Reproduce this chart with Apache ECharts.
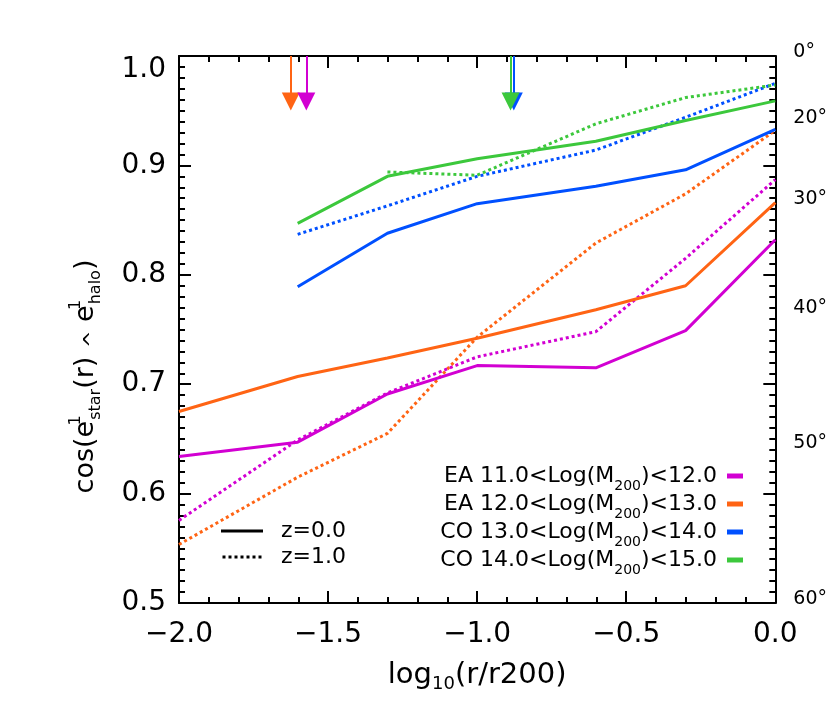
<!DOCTYPE html>
<html>
<head>
<meta charset="utf-8">
<script src="https://cdn.jsdelivr.net/npm/echarts@6.0.0/dist/echarts.min.js"></script>
<style>
  html, body { margin: 0; padding: 0; background: #fff; }
  #chart { width: 830px; height: 718px; }
</style>
</head>
<body>
<div id="chart"></div>
<script>
// log10(r/r200) sample radii
const logR = [-2.0, -1.602, -1.301, -1.0, -0.602, -0.301, 0.0];

// z = 0.0 (solid)
const ea11_z0 = [0.634, 0.647, 0.691, 0.717, 0.715, 0.749, 0.832];
const ea12_z0 = [0.675, 0.707, 0.724, 0.742, 0.768, 0.790, 0.866];
const co13_z0 = [null, 0.789, 0.838, 0.865, 0.881, 0.896, 0.933];
const co14_z0 = [null, 0.847, 0.890, 0.906, 0.922, 0.941, 0.959];

// z = 1.0 (dotted)
const ea11_z1 = [0.5755, 0.649, 0.692, 0.725, 0.748, 0.815, 0.887];
const ea12_z1 = [0.5535, 0.615, 0.655, 0.743, 0.829, 0.874, 0.932];
const co13_z1 = [null, 0.837, 0.863, 0.890, 0.914, 0.944, 0.975];
const co14_z1 = [null, null, 0.894, 0.891, 0.938, 0.962, 0.9735];

// arrows at the top of the frame
const arrowX = [-1.573, -1.625, -0.877, -0.888]; // EA11, EA12, CO13, CO14
const arrowTop = 1.0;
const arrowEnd = 0.9584;

const binNames = [
  'EA 11.0<Log(M200)<12.0',
  'EA 12.0<Log(M200)<13.0',
  'CO 13.0<Log(M200)<14.0',
  'CO 14.0<Log(M200)<15.0',
];
const binColors = ['#d200d2', '#ff6414', '#0050ff', '#3cc83c'];
const zNames = ['z=0.0', 'z=1.0'];

const yTicks = [0.5, 0.6, 0.7, 0.8, 0.9, 1.0];
const angleTicks = [0, 20, 30, 40, 50, 60];

const solid = [ea11_z0, ea12_z0, co13_z0, co14_z0];
const dotted = [ea11_z1, ea12_z1, co13_z1, co14_z1];

const toPairs = (ys) =>
  logR.map((x, i) => [x, ys[i]]).filter((p) => p[1] != null);

const series = [];
// draw order: orange under magenta, blue under green
const drawOrder = [1, 0, 2, 3];
drawOrder.forEach((k) => {
  series.push({
    name: binNames[k],
    type: 'line',
    symbol: 'none',
    showSymbol: false,
    itemStyle: { color: binColors[k] },
    lineStyle: { color: binColors[k], width: 3, type: 'dotted', cap: 'butt' },
    data: toPairs(dotted[k]),
  });
});
drawOrder.forEach((k) => {
  series.push({
    name: binNames[k],
    type: 'line',
    symbol: 'none',
    showSymbol: false,
    itemStyle: { color: binColors[k] },
    lineStyle: { color: binColors[k], width: 3 },
    data: toPairs(solid[k]),
    markLine: {
      silent: true,
      symbol: ['none', 'triangle'],
      symbolSize: 18,
      label: { show: false },
      lineStyle: { color: binColors[k], width: 2, type: 'solid' },
      itemStyle: { color: binColors[k] },
      data: [[{ coord: [arrowX[k], arrowTop] }, { coord: [arrowX[k], arrowEnd] }]],
    },
  });
});
// dummy series for the redshift key
series.push({
  name: zNames[0], type: 'line', symbol: 'none', showSymbol: false,
  itemStyle: { color: '#000' }, lineStyle: { color: '#000', width: 2 }, data: [],
});
series.push({
  name: zNames[1], type: 'line', symbol: 'none', showSymbol: false,
  itemStyle: { color: '#000' }, lineStyle: { color: '#000', width: 2, type: 'dotted' }, data: [],
});

const black = '#000';
const tickCommon = {
  axisLine: { show: true, onZero: false, lineStyle: { color: black, width: 2 } },
  axisTick: { show: true, inside: true, length: 12, lineStyle: { color: black, width: 2 } },
  splitLine: { show: false },
  minorSplitLine: { show: false },
};

const fmtMinus = (v) => (v < 0 ? '\u2212' + Math.abs(v).toFixed(1) : v.toFixed(1));

// dotted key sample: seven small squares
const dotIcon = 'path://M0,0h3v3h-3zM6,0h3v3h-3zM12,0h3v3h-3zM18,0h3v3h-3zM24,0h3v3h-3zM30,0h3v3h-3zM36,0h3v3h-3z';

const option = {
  backgroundColor: '#fff',
  animation: false,
  textStyle: { fontFamily: 'DejaVu Sans', color: black },
  grid: { left: 179, right: 53, top: 56, bottom: 115 },
  legend: [
    {
      data: binNames,
      orient: 'vertical',
      align: 'right',
      right: 87,
      top: 465,
      padding: 0,
      itemWidth: 16,
      itemHeight: 5,
      itemGap: 0,
      icon: 'rect',
      selectedMode: false,
      formatter: (name) => {
        const parts = name.split('M200');
        return '{t|' + parts[0] + 'M}{s|200}{t|' + parts[1] + '}';
      },
      textStyle: {
        padding: [0, 5, 0, 0],
        rich: {
          t: { fontSize: 22, lineHeight: 26, color: black, verticalAlign: 'middle' },
          s: { fontSize: 14, lineHeight: 14, color: black, verticalAlign: 'bottom', padding: [0, 0, -4, 0] },
        },
      },
    },
    {
      data: [
        { name: zNames[0], icon: 'rect' },
        { name: zNames[1], icon: dotIcon },
      ],
      orient: 'vertical',
      left: 221,
      top: 518,
      padding: 0,
      itemWidth: 42,
      itemHeight: 3,
      itemGap: 0,
      selectedMode: false,
      textStyle: { fontSize: 22, lineHeight: 26, color: black, padding: [0, 0, 0, 13] },
    },
  ],
  xAxis: [
    {
      type: 'value',
      position: 'bottom',
      min: -2,
      max: 0,
      interval: 0.5,
      ...tickCommon,
      minorTick: { show: true, splitNumber: 5, length: 6, lineStyle: { color: black, width: 2 } },
      axisLabel: { fontSize: 28, color: black, margin: 18, formatter: fmtMinus },
      name: '{t|log}{s|10}{t|(r/r200)}',
      nameLocation: 'middle',
      nameGap: 57,
      nameTextStyle: {
        rich: {
          t: { fontSize: 29, lineHeight: 30, color: black, verticalAlign: 'middle' },
          s: { fontSize: 18, lineHeight: 17, color: black, verticalAlign: 'bottom', padding: [0, 0, -3, 0] },
        },
      },
    },
    {
      type: 'value',
      position: 'top',
      min: -2,
      max: 0,
      interval: 0.5,
      ...tickCommon,
      minorTick: { show: true, splitNumber: 5, length: 6, lineStyle: { color: black, width: 2 } },
      axisLabel: { show: false },
    },
  ],
  yAxis: [
    {
      type: 'value',
      position: 'left',
      min: 0.5,
      max: 1.0,
      interval: 0.1,
      ...tickCommon,
      minorTick: { show: true, splitNumber: 10, length: 6, lineStyle: { color: black, width: 2 } },
      axisLabel: {
        fontSize: 28,
        color: black,
        margin: 13,
        formatter: (v) => v.toFixed(1),
        verticalAlignMaxLabel: 'top',
      },
      name: '{t|cos(e}{p|1}{s|star}{t|(r) }{c|^}{t| e}{p|1}{s|halo}{t|)}',
      nameLocation: 'middle',
      nameRotate: 90,
      nameGap: 75,
      nameTextStyle: {
        padding: [0, 94, 0, 0],
        rich: {
          t: { fontSize: 27, lineHeight: 36, color: black, verticalAlign: 'middle' },
          p: { fontSize: 16, lineHeight: 15, color: black, verticalAlign: 'top', width: 1 },
          s: { fontSize: 16, lineHeight: 18, color: black, verticalAlign: 'bottom' },
          c: { fontSize: 21, lineHeight: 20, color: black, verticalAlign: 'bottom' },
        },
      },
    },
    {
      type: 'value',
      position: 'right',
      min: 0.5,
      max: 1.0,
      interval: 0.1,
      ...tickCommon,
      axisTick: {
        show: true, inside: true, length: 12,
        customValues: yTicks,
        lineStyle: { color: black, width: 2 },
      },
      minorTick: { show: true, splitNumber: 10, length: 6, lineStyle: { color: black, width: 2 } },
      axisLabel: {
        fontSize: 19,
        color: black,
        margin: 18,
        verticalAlign: 'bottom',
        lineHeight: 8,
        customValues: angleTicks.map((a) => Math.cos((a * Math.PI) / 180)),
        formatter: (v) => Math.round((Math.acos(Math.min(1, v)) * 180) / Math.PI) + '°',
      },
    },
  ],
  series: series,
};

const chart = echarts.init(document.getElementById('chart'));
chart.setOption(option);
</script>
</body>
</html>
